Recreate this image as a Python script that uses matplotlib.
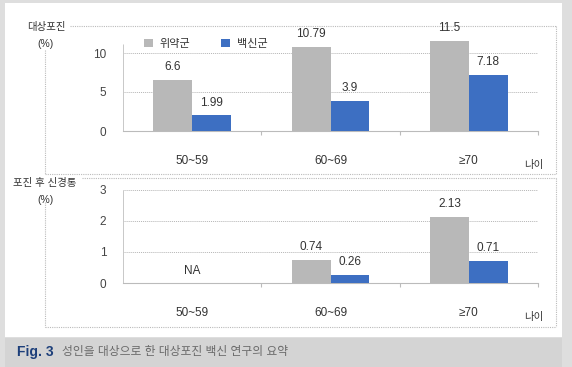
import matplotlib
matplotlib.use('Agg')
import numpy as np
import matplotlib.pyplot as plt
from matplotlib.patches import Rectangle
from matplotlib.lines import Line2D

plt.rcParams['font.family'] = ['Liberation Sans', 'Noto Sans CJK KR', 'DejaVu Sans']

# --------------> DATA
ages = ['50~59', '60~69', '≥70']
series = ['위약군', '백신군']
shingles_placebo = [6.6, 10.79, 11.5]
shingles_vaccine = [1.99, 3.9, 7.18]
phn_placebo = [np.nan, 0.74, 2.13]
phn_vaccine = [np.nan, 0.26, 0.71]

GRAY = '#b8b8b8'
BLUE = '#3d6fc2'
TXT = '#333333'
W, H = 572, 367


def fx(x):
    return x / W


def fy(y):
    return 1 - y / H


fig = plt.figure(figsize=(5.72, 3.67), dpi=100, facecolor='#dedede')

# white panel + caption strip
fig.patches.append(Rectangle((fx(5), fy(337)), fx(557), 334 / H, transform=fig.transFigure,
                             facecolor='white', edgecolor='none', zorder=-5))
fig.patches.append(Rectangle((fx(5), fy(367)), fx(557), 29 / H, transform=fig.transFigure,
                             facecolor='#d4d4d4', edgecolor='none', zorder=-5))


# --------------> DOTTED FRAMES
def frame(top, bottom, label_end):
    kw = dict(transform=fig.transFigure, color='#bbbbbb', lw=0.8, ls=(0, (1, 1)), zorder=-4)
    fig.lines.append(Line2D([fx(label_end), fx(556)], [fy(top), fy(top)], **kw))
    fig.lines.append(Line2D([fx(556), fx(556)], [fy(top), fy(bottom)], **kw))
    fig.lines.append(Line2D([fx(45), fx(556)], [fy(bottom), fy(bottom)], **kw))
    fig.lines.append(Line2D([fx(45), fx(45)], [fy(top + 24), fy(bottom)], **kw))


frame(26, 174, 70)
frame(178, 327, 82)


def panel(top_px, zero_px, ymax, ticks, placebo, vaccine):
    ax = fig.add_axes([fx(123), fy(zero_px), fx(538 - 123), (zero_px - top_px) / H])
    x = np.arange(len(ages))
    w = 0.28
    ax.bar(x - w / 2, placebo, w, color=GRAY, label=series[0], zorder=3)
    ax.bar(x + w / 2, vaccine, w, color=BLUE, label=series[1], zorder=3)
    for xs, vals in ((x - w / 2, placebo), (x + w / 2, vaccine)):
        for xi, v in zip(xs, vals):
            if np.isnan(v):
                continue
            ax.annotate(f'{v:g}', (xi, v), xytext=(0, 5), textcoords='offset points',
                        ha='center', va='bottom', fontsize=8.5, color=TXT)
    for xi, v in zip(x, placebo):
        if np.isnan(v):
            ax.annotate('NA', (xi, 0), xytext=(0, 4), textcoords='offset points',
                        ha='center', va='bottom', fontsize=8.5, color=TXT)
    ax.set_xlim(-0.5, len(ages) - 0.5)
    ax.set_ylim(0, ymax)
    ax.set_yticks(ticks)
    ax.set_yticklabels([f'{t:g}' for t in ticks], fontsize=8.5, color='#444444')
    ax.tick_params(axis='y', length=0, pad=12)
    ax.set_xticks(np.arange(len(ages)) + 0.5)
    ax.set_xticklabels([])
    ax.tick_params(axis='x', length=3, color='#bbbbbb')
    ax.set_xticks(x, minor=True)
    ax.set_xticklabels(ages, minor=True, fontsize=8.5, color=TXT)
    ax.tick_params(axis='x', which='minor', length=0, pad=17)
    for t in ticks:
        ax.axhline(t, color='#b5b5b5', lw=0.7, ls=(0, (1, 1)), zorder=1)
    for s in ('top', 'right'):
        ax.spines[s].set_visible(False)
    ax.spines['bottom'].set_color('#bbbbbb')
    ax.spines['bottom'].set_linewidth(0.8)
    ax.spines['left'].set_color('#c8c8c8')
    ax.spines['left'].set_linestyle((0, (1, 1)))
    ax.spines['left'].set_linewidth(0.7)
    ax.spines['left'].set_bounds(0, min(ymax, ticks[-1] * 1.12))
    ax.patch.set_alpha(0)
    return ax


ax1 = panel(26, 131, (131 - 26) / 7.8, [0, 5, 10], shingles_placebo, shingles_vaccine)
ax2 = panel(190, 283, 3, [0, 1, 2, 3], phn_placebo, phn_vaccine)

fig.text(fx(524), fy(165), '나이', fontsize=7.5, color=TXT, va='center')
fig.text(fx(524), fy(317), '나이', fontsize=7.5, color=TXT, va='center')

# y labels
fig.text(fx(46), fy(27), '대상포진', fontsize=7.5, color=TXT, ha='center', va='center')
fig.text(fx(46), fy(44), '(%)', fontsize=7.5, color=TXT, ha='center', va='center')
fig.text(fx(45), fy(183), '포진 후 신경통', fontsize=7.5, color=TXT, ha='center', va='center')
fig.text(fx(45), fy(200), '(%)', fontsize=7.5, color=TXT, ha='center', va='center')

# legend
ax1.legend(loc='center left', bbox_to_anchor=(fx(134), fy(44)), bbox_transform=fig.transFigure,
           ncol=2, frameon=False, fontsize=8, handlelength=0.8, handleheight=0.8,
           columnspacing=2.8, handletextpad=0.6, labelcolor=TXT)

# caption
fig.text(fx(17), fy(352), 'Fig. 3', fontsize=10, fontweight='bold', color='#1d3f7a', va='center')
fig.text(fx(62), fy(352), '성인을 대상으로 한 대상포진 백신 연구의 요약', fontsize=8.5,
         color='#6a6a6a', va='center')

fig.savefig('out.png', dpi=100, facecolor=fig.get_facecolor())
